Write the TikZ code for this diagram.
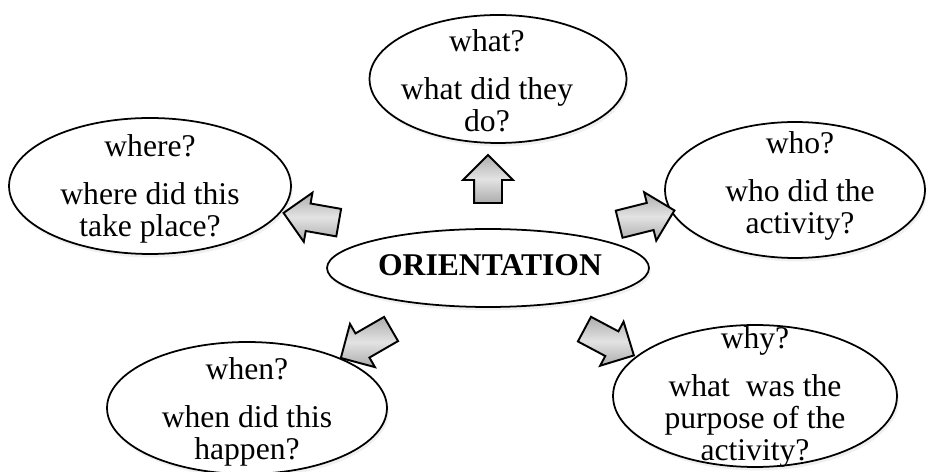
\documentclass[tikz,border=0pt]{standalone}
\usepackage{fontspec}
\setmainfont{Liberation Serif}
\usepackage{tikz}
\usetikzlibrary{shapes,shapes.arrows,shadows}
\tikzstyle{bubble} = [draw, ellipse, line width=1pt, fill=white, inner sep=0pt,
  drop shadow={opacity=0.12, shadow xshift=1pt, shadow yshift=-2pt}]
\tikzstyle{txt} = [align=center, inner sep=0pt, font=\fontsize{18}{18.2}\selectfont]
\tikzstyle{blockarrow} = [draw, single arrow, line width=1.1pt, inner xsep=0pt, inner ysep=0.26cm,
  single arrow head extend=0.22cm,
  top color=gray!65, bottom color=gray!65, middle color=gray!22]

\begin{document}
\begin{tikzpicture}[x=0.02cm, y=-0.02cm]
    \useasboundingbox (0,0) rectangle (926,472);
    % the question bubbles
    \node [bubble, minimum width=5.14cm, minimum height=2.56cm] (what) at (498,79) {};
    \node [bubble, minimum width=5.64cm, minimum height=2.72cm] (where) at (150,186) {};
    \node [bubble, minimum width=5.2cm, minimum height=2.72cm] (who) at (795,190) {};
    \node [bubble, minimum width=5.6cm, minimum height=2.64cm] (when) at (247,408) {};
    \node [bubble, minimum width=5.68cm, minimum height=2.84cm] (why) at (755,396) {};
    \node [bubble, minimum width=6.44cm, minimum height=1.56cm] (orient) at (488,268) {};
    % texts
    \node [txt] (whatText) at (487,81) {what?\\[9pt] what did they\\ do?};
    \node [txt] (whereText) at (150,189) {where?\\[9pt] where did this\\ take place?};
    \node [txt] (whoText) at (800,186) {who?\\[9pt] who did the\\ activity?};
    \node [txt] (whenText) at (247,412) {when?\\[9pt] when did this\\ happen?};
    \node [txt] (whyText) at (755,397) {why?\\[9pt] what~ was the\\ purpose of the\\ activity?};
    \node [txt, font=\fontsize{18}{18.2}\selectfont\bfseries] (orientText) at (490,265) {ORIENTATION};
    % block arrows out of the centre
    \node [blockarrow, minimum height=1.12cm, rotate=170] (toWhere) at (318,219) {};
    \node [blockarrow, minimum height=0.96cm, rotate=90] (toWhat) at (488,186) {};
    \node [blockarrow, minimum height=1.14cm, rotate=14] (toWho) at (640,219) {};
    \node [blockarrow, minimum height=1.16cm, rotate=210] (toWhen) at (372,340) {};
    \node [blockarrow, minimum height=1.12cm, rotate=-28] (toWhy) at (603,339) {};
\end{tikzpicture}
\end{document}
